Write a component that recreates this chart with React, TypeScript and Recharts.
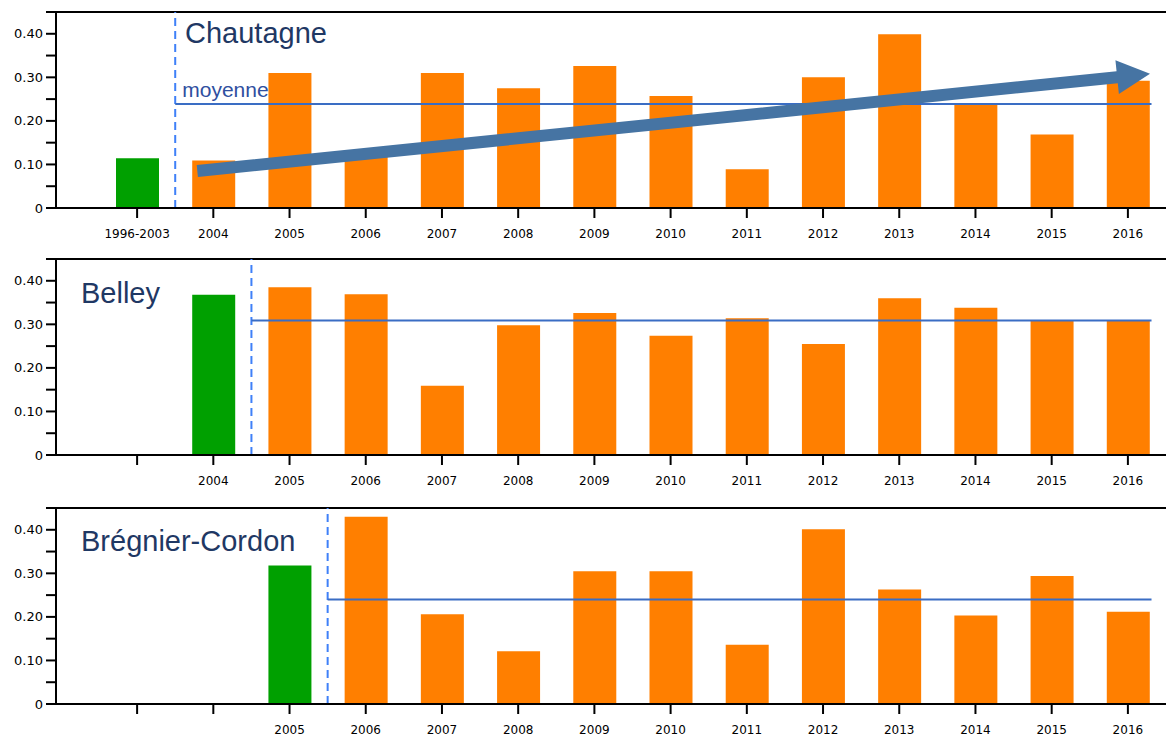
import { BarChart, Bar, Cell, XAxis, YAxis, ReferenceLine } from "recharts"

// Chautagne
const chautagneYears = ["1996-2003", "2004", "2005", "2006", "2007", "2008", "2009", "2010", "2011", "2012", "2013", "2014", "2015", "2016"]
const chautagneValues = [0.114, 0.109, 0.31, 0.118, 0.31, 0.275, 0.326, 0.257, 0.089, 0.3, 0.399, 0.24, 0.169, 0.292]
const chautagneRef = "1996-2003"
const chautagneMean = 0.239
// trend arrow, in slot units on x, value on y
const chautagneTrendStart = { x: 0.79, y: 0.085 }
const chautagneTrendEnd = { x: 13.29, y: 0.308 }

// Belley
const belleyYears = ["", "2004", "2005", "2006", "2007", "2008", "2009", "2010", "2011", "2012", "2013", "2014", "2015", "2016"]
const belleyValues = [null, 0.368, 0.385, 0.369, 0.159, 0.298, 0.326, 0.274, 0.314, 0.255, 0.36, 0.338, 0.308, 0.308]
const belleyRef = "2004"
const belleyMean = 0.309

// Brégnier-Cordon
const bregnierYears = ["", "", "2005", "2006", "2007", "2008", "2009", "2010", "2011", "2012", "2013", "2014", "2015", "2016"]
const bregnierValues = [null, null, 0.318, 0.43, 0.206, 0.121, 0.305, 0.305, 0.136, 0.401, 0.263, 0.203, 0.294, 0.212]
const bregnierRef = "2005"
const bregnierMean = 0.24

const yTicks = [0, 0.05, 0.1, 0.15, 0.2, 0.25, 0.3, 0.35, 0.4, 0.45]

const GREEN = "#00A000"
const ORANGE = "#FF7F00"
const MEAN_BLUE = "#3A6DC4"
const DASH_BLUE = "#3F80F8"
const ARROW_BLUE = "#4674A3"
const TITLE_BLUE = "#1F3864"

const renderYTick = (props: any) => {
  const { x, y, payload } = props
  const v = payload.value
  const major = Math.round(v * 100) % 10 === 0 && v < 0.44
  if (!major) return <g />
  return (
    <text x={x} y={y} dy={4.5} textAnchor="end" fontSize={13} fontFamily="DejaVu Sans" fill="#000">
      {v === 0 ? "0" : v.toFixed(2)}
    </text>
  )
}

const renderArrow = (props: any) => {
  const { x1, y1, x2, y2 } = props
  const dx = x2 - x1
  const dy = y2 - y1
  const len = Math.hypot(dx, dy)
  const ux = dx / len
  const uy = dy / len
  const nx = -uy
  const ny = ux
  const head = 33
  const half = 17
  const shaft = 6
  const bx = x2 - ux * head
  const by = y2 - uy * head
  const pts = [
    [x1 + nx * shaft, y1 + ny * shaft],
    [bx + nx * shaft, by + ny * shaft],
    [bx + nx * half, by + ny * half],
    [x2, y2],
    [bx - nx * half, by - ny * half],
    [bx - nx * shaft, by - ny * shaft],
    [x1 - nx * shaft, y1 - ny * shaft],
  ]
  return <polygon points={pts.map((p) => p.join(",")).join(" ")} fill={ARROW_BLUE} />
}

interface PanelProps {
  title: string
  titleLeft: number
  titleTop: number
  height: number
  years: string[]
  values: (number | null)[]
  refYear: string
  mean: number
  meanLabel?: string
  trendStart?: { x: number; y: number }
  trendEnd?: { x: number; y: number }
}

function Panel({ title, titleLeft, titleTop, height, years, values, refYear, mean, meanLabel, trendStart, trendEnd }: PanelProps) {
  // slot = category index, used by the hidden numeric axis for lines between bars
  const data = years.map((year, i) => ({ year, slot: i, value: values[i] }))
  const divider = years.indexOf(refYear) + 0.5
  const meanEnd = years.length - 1 + 0.31

  return (
    <div style={{ position: "relative", width: 1168, height }}>
      <BarChart width={1168} height={height} data={data} margin={{ top: 12, right: 2, bottom: 0, left: 0 }}>
        <XAxis
          dataKey="year"
          interval={0}
          padding={{ left: 43, right: 0 }}
          height={height - 208}
          tickSize={10}
          tickMargin={11}
          axisLine={{ stroke: "#000", strokeWidth: 2 }}
          tickLine={{ stroke: "#000", strokeWidth: 2 }}
          tick={{ fontSize: 12, fill: "#000", fontFamily: "DejaVu Sans" }}
        />
        <XAxis
          xAxisId="pos"
          dataKey="slot"
          type="number"
          domain={[-0.5, years.length - 0.5]}
          padding={{ left: 43, right: 0 }}
          allowDataOverflow
          hide
        />
        <YAxis
          domain={[0, 0.45]}
          ticks={yTicks}
          interval={0}
          width={56}
          tickSize={10}
          tickMargin={3}
          allowDataOverflow
          axisLine={{ stroke: "#000", strokeWidth: 2 }}
          tickLine={{ stroke: "#000", strokeWidth: 2 }}
          tick={renderYTick}
        />
        <Bar dataKey="value" barSize={43} isAnimationActive={false}>
          {data.map((d, i) => (
            <Cell key={`cell-${i}`} fill={d.year === refYear ? GREEN : ORANGE} />
          ))}
        </Bar>
        <ReferenceLine y={0.45} stroke="#000" strokeWidth={2} />
        <ReferenceLine xAxisId="pos" x={divider} stroke={DASH_BLUE} strokeWidth={2} strokeDasharray="8 5" />
        <ReferenceLine
          xAxisId="pos"
          segment={[
            { x: divider, y: mean },
            { x: meanEnd, y: mean },
          ]}
          stroke={MEAN_BLUE}
          strokeWidth={2}
          label={
            meanLabel
              ? {
                  value: meanLabel,
                  position: "insideBottomLeft",
                  offset: 7,
                  fill: "#2F4F9F",
                  fontSize: 21,
                  fontFamily: "Liberation Sans",
                }
              : undefined
          }
        />
        {trendStart && trendEnd && (
          <ReferenceLine xAxisId="pos" segment={[trendStart, trendEnd]} shape={renderArrow} />
        )}
      </BarChart>
      <div
        style={{
          position: "absolute",
          left: titleLeft,
          top: titleTop,
          fontFamily: "Liberation Sans",
          fontSize: 29,
          lineHeight: 1,
          color: TITLE_BLUE,
          whiteSpace: "nowrap",
        }}
      >
        {title}
      </div>
    </div>
  )
}

export default function App() {
  return (
    <div
      style={{
        position: "absolute",
        left: 0,
        top: 0,
        width: 1168,
        height: 736,
        overflow: "hidden",
        background: "#fff",
      }}
    >
      <div style={{ position: "absolute", left: 0, top: 0 }}>
        <Panel
          title="Chautagne"
          titleLeft={185}
          titleTop={19}
          height={246}
          years={chautagneYears}
          values={chautagneValues}
          refYear={chautagneRef}
          mean={chautagneMean}
          meanLabel="moyenne"
          trendStart={chautagneTrendStart}
          trendEnd={chautagneTrendEnd}
        />
      </div>
      <div style={{ position: "absolute", left: 0, top: 247 }}>
        <Panel
          title="Belley"
          titleLeft={81}
          titleTop={32}
          height={246}
          years={belleyYears}
          values={belleyValues}
          refYear={belleyRef}
          mean={belleyMean}
        />
      </div>
      <div style={{ position: "absolute", left: 0, top: 496 }}>
        <Panel
          title="Brégnier-Cordon"
          titleLeft={81}
          titleTop={31}
          height={240}
          years={bregnierYears}
          values={bregnierValues}
          refYear={bregnierRef}
          mean={bregnierMean}
        />
      </div>
    </div>
  )
}
